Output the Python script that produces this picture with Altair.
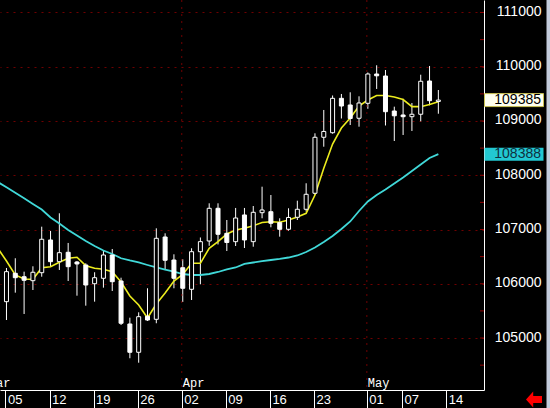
import json
import altair as alt
import pandas as pd

# ---- data (USD/JPY x1000, daily, 5 Mar - 11 May) ----
opens = [105670, 106193, 106130, 106057, 106204, 106807, 106407, 106580, 106401, 106346,
         106001, 106101, 106530, 106051, 105259, 104737, 105401, 105345, 106862, 106438,
         106296, 105898, 106591, 106788, 107391, 106930, 106776, 107268, 106776, 107310,
         107328, 107126, 107004, 107225, 107373, 107668, 108700, 108784, 109418, 109295,
         109050, 109326, 109866, 109829, 109184, 109111, 109079, 109124, 109737, 109360]
highs = [106291, 106470, 106223, 106322, 107052, 106973, 107299, 106752, 106420, 106377,
         106212, 106604, 106641, 106112, 105375, 105474, 105917, 107022, 106930, 106543,
         106451, 106654, 106853, 107483, 107483, 107175, 107397, 107397, 107433, 107789,
         107636, 107207, 107391, 107531, 107852, 108773, 109203, 109470, 109498, 109529,
         109455, 109894, 110027, 109940, 109264, 109409, 109332, 109853, 110014, 109571]
lows = [105332, 105836, 105443, 105885, 106130, 106315, 106254, 106051, 105780, 105596,
        105670, 105928, 105867, 105240, 104627, 104545, 105314, 105272, 106254, 105917,
        105664, 105701, 105990, 106700, 106724, 106604, 106696, 106659, 106683, 107207,
        107041, 106868, 106978, 107175, 107328, 107636, 108526, 108766, 109046, 108926,
        108895, 109225, 109590, 108917, 108631, 108742, 108816, 108994, 109289, 109134]
closes = [106223, 106112, 106064, 106212, 106820, 106407, 106573, 106315, 106365, 105977,
          106112, 106530, 106038, 105272, 104737, 105393, 105332, 106838, 106433, 106101,
          105917, 106591, 106776, 107391, 106912, 106761, 107212, 106807, 107317, 107360,
          107115, 107004, 107222, 107373, 107649, 108700, 108807, 109418, 109276, 109046,
          109332, 109866, 109833, 109171, 109096, 109079, 109124, 109732, 109374, 109385]

# moving averages, first value is the day before 5 Mar
ma_short = [106659,
            106420, 106162, 106088, 106082, 106296, 106315, 106396, 106470, 106488, 106333,
            106285, 106267, 106223, 106033, 105775, 105609, 105369, 105627, 105830, 106051,
            106171, 106377, 106377, 106654, 106776, 106917, 106991, 107022, 107069, 107129,
            107144, 107135, 107175, 107231, 107299, 107636, 108128, 108576, 108871, 109055,
            109276, 109387, 109470, 109470, 109442, 109396, 109264, 109264, 109304, 109356]
ma_long = [107876,
           107778, 107679, 107575, 107470, 107369, 107222, 107111, 106991, 106890, 106788,
           106696, 106613, 106549, 106470, 106429, 106392, 106346, 106300, 106259, 106223,
           106180, 106162, 106162, 106180, 106217, 106263, 106300, 106365, 106392, 106416,
           106438, 106457, 106484, 106521, 106586, 106669, 106770, 106880, 107010, 107148,
           107341, 107516, 107636, 107737, 107848, 107959, 108078, 108198, 108318, 108388]

week_ticks = [0, 5, 10, 15, 20, 25, 30, 35, 41, 45, 50]
week_labels = ["05", "12", "19", "26", "02", "09", "16", "23", "01", "07", "14"]
month_pos = [-2, 20, 41]
month_labels = ["Mar", "Apr", "May"]
y_ticks = [105000, 106000, 107000, 108000, 109000, 110000, 111000]
minor_ticks = [104500, 105000, 105500, 106000, 106500, 107000, 107500, 108000,
               108500, 109000, 109500, 110000, 110500, 111000]
last_price = [109385]
last_ma = [108388]

# ---- frames ----
n = len(opens)
candles = pd.DataFrame({"i": list(range(n)), "open": opens, "high": highs,
                        "low": lows, "close": closes})
candles["up"] = candles["close"] >= candles["open"]
ma = pd.DataFrame({"i": list(range(-1, n)), "short": ma_short, "long": ma_long})
months = pd.DataFrame({"i": month_pos, "label": month_labels})
vgrid = months[months["i"] >= 0]
boxes_p = pd.DataFrame({"v": last_price, "t": [str(v) for v in last_price]})
boxes_m = pd.DataFrame({"v": last_ma, "t": [str(v) for v in last_ma]})
minor = pd.DataFrame({"v": minor_ticks})

xscale = alt.Scale(domain=[-1.5 / 9, 482.5 / 9], nice=False, zero=False)
yscale = alt.Scale(domain=[104042, 111230], nice=False, zero=False)

label_expr = "{}[indexof({}, datum.value)]".format(json.dumps(week_labels), json.dumps(week_ticks))

x_axis = alt.Axis(orient="bottom", values=week_ticks, labelExpr=label_expr, grid=False,
                  domainColor="white", domainWidth=1, tickColor="white", tickWidth=1,
                  tickSize=18, tickOffset=-1, labelColor="white", labelFont="Liberation Sans",
                  labelFontSize=13, labelAlign="left", labelBaseline="middle",
                  labelPadding=-9, labelOffset=2, labelFlush=False, labelOverlap=False,
                  title=None)
y_axis = alt.Axis(orient="right", values=y_ticks, format="d", grid=True,
                  gridColor="#700000", gridDash=[2, 5], gridWidth=1,
                  domainColor="white", domainWidth=1, ticks=True, tickSize=0,
                  labelColor="white", labelFont="Liberation Sans", labelFontSize=14,
                  labelAlign="right", labelBaseline="middle", labelPadding=57,
                  labelOffset=-1, labelFlush=False, labelOverlap=False, title=None)


def X(field="i:Q"):
    return alt.X(field, scale=xscale, axis=x_axis)


def Y(field):
    return alt.Y(field, scale=yscale, axis=y_axis)


wicks = alt.Chart(candles).mark_rule(color="white", strokeWidth=1, clip=True).encode(
    x=X(), y=Y("low:Q"), y2="high:Q",
)
bodies = alt.Chart(candles).mark_bar(size=4, stroke="white", strokeWidth=1, clip=True).encode(
    x=X(), y=Y("open:Q"), y2="close:Q",
    fill=alt.condition("datum.up", alt.value("black"), alt.value("white")),
)
line_long = alt.Chart(ma).mark_line(color="#40d8d8", strokeWidth=1.8, clip=True).encode(
    x=X(), y=Y("long:Q"))
line_short = alt.Chart(ma).mark_line(color="#ecec1e", strokeWidth=1.6, clip=True).encode(
    x=X(), y=Y("short:Q"))

vlines = alt.Chart(vgrid).mark_rule(color="#700000", strokeDash=[2, 5], strokeWidth=1,
                                    xOffset=-1).encode(
    x=X(), y=alt.value(0), y2=alt.value(390))

month_text = alt.Chart(months).mark_text(color="white", font="Liberation Mono", fontSize=12,
                                         align="left", baseline="alphabetic", dx=0).encode(
    x=X(), y=alt.value(387), text="label:N")

minor_ticks_layer = alt.Chart(minor).mark_rule(color="#900000", strokeWidth=1).encode(
    x=alt.value(480), x2=alt.value(484), y=Y("v:Q"))

rect_path = "M-1,-0.22L1,-0.22L1,0.22L-1,0.22Z"
box_price = alt.Chart(boxes_p).mark_point(shape=rect_path, size=3481, filled=True,
                                          fill="#fffff0", stroke="#c8c050", strokeWidth=1,
                                          opacity=1).encode(
    x=alt.value(514), y=Y("v:Q"))
box_ma = alt.Chart(boxes_m).mark_point(shape=rect_path, size=3481, filled=True,
                                       fill="#22c8d2", opacity=1, strokeWidth=0).encode(
    x=alt.value(514), y=Y("v:Q"))
text_price = alt.Chart(boxes_p).mark_text(color="black", font="Liberation Sans", fontSize=14,
                                          align="right", baseline="middle").encode(
    x=alt.value(541), y=Y("v:Q"), text="t:N")
text_ma = alt.Chart(boxes_m).mark_text(color="#103040", font="Liberation Sans", fontSize=14,
                                       align="right", baseline="middle").encode(
    x=alt.value(541), y=Y("v:Q"), text="t:N")

strip = alt.Chart(boxes_p).mark_rect(color="#c4ccdc").encode(
    x=alt.value(546.5), x2=alt.value(560), y=alt.value(-10), y2=alt.value(420))

arrow_path = "M-1,0L-0.1,-1L-0.1,-0.45L1,-0.45L1,0.45L-0.1,0.45L-0.1,1Z"
arrow = alt.Chart(boxes_p).mark_point(shape=arrow_path, size=256, filled=True,
                                      fill="#ff0000", opacity=1, strokeWidth=0).encode(
    x=alt.value(534), y=alt.value(399.5))

chart = alt.layer(
    wicks, vlines, line_long, line_short, bodies, month_text, minor_ticks_layer,
    box_price, box_ma, text_price, text_ma, strip, arrow,
).properties(
    width=484, height=390,
    autosize=alt.AutoSizeParams(type="none"),
    padding={"left": 0, "top": 0, "right": 66, "bottom": 18},
    background="black",
).configure_view(stroke=None)

chart.save("out.html", embed_options={"renderer": "svg", "actions": False})
